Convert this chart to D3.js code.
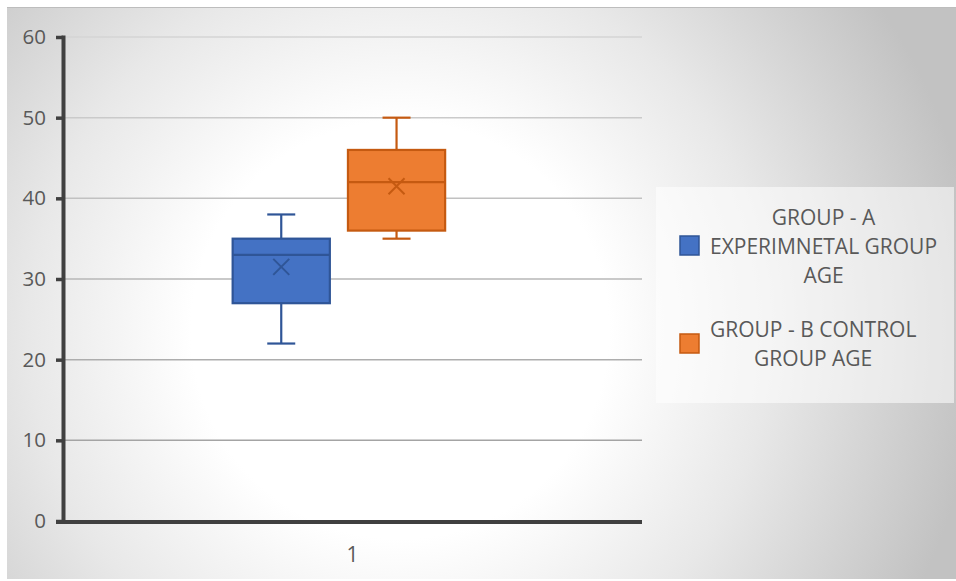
<!DOCTYPE html>
<html><head><meta charset="utf-8">
<script src="https://cdn.jsdelivr.net/npm/d3@7"></script>
<style>body{margin:0;background:#fff}svg{display:block}</style>
</head><body>
<script>
// ---- data ----
const categories = ["1"];
const seriesNames = ["GROUP - A EXPERIMNETAL GROUP AGE", "GROUP - B CONTROL GROUP AGE"];
const legendLines = [["GROUP - A", "EXPERIMNETAL GROUP", "AGE"], ["GROUP - B CONTROL", "GROUP AGE"]];
const whiskerMin = [22, 35];
const q1 = [27, 36];
const median = [33, 42];
const q3 = [35, 46];
const whiskerMax = [38, 50];
const means = [31.5, 41.5];
const yTicks = [0, 10, 20, 30, 40, 50, 60];
const fills = ["#4472C4", "#ED7D31"];
const strokes = ["#2F5597", "#C55A11"];

const W = 956, H = 581;
const svg = d3.select("body").append("svg").attr("width", W).attr("height", H);
const defs = svg.append("defs");
const grad = defs.append("radialGradient").attr("id", "bg")
  .attr("gradientUnits", "userSpaceOnUse").attr("cx", 400).attr("cy", 330).attr("r", 580);
grad.append("stop").attr("offset", 0).attr("stop-color", "#ffffff");
grad.append("stop").attr("offset", 0.36).attr("stop-color", "#ffffff");
grad.append("stop").attr("offset", 0.64).attr("stop-color", "#e8e8e8");
grad.append("stop").attr("offset", 1).attr("stop-color", "#c2c2c2");

svg.append("rect").attr("x", 7).attr("y", 7).attr("width", W - 7).attr("height", 572)
  .attr("fill", "url(#bg)");
svg.append("line").attr("x1", 7).attr("x2", W).attr("y1", 7.5).attr("y2", 7.5).attr("stroke", "#bdbdbd").attr("stroke-width", 1);

const plotL = 63, plotR = 642, plotT = 37, plotB = 521;
const y = d3.scaleLinear().domain([0, 60]).range([plotB, plotT]);
const x0 = d3.scaleBand().domain(categories).range([plotL, plotR]).padding(0);
const x1 = d3.scaleBand().domain(seriesNames)
  .range([x0("1") + x0.bandwidth() * 0.293, x0("1") + x0.bandwidth() * 0.66])
  .paddingInner(0.157).paddingOuter(0);

const font = "'Open Sans', sans-serif";
// gridlines
svg.append("g").selectAll("line").data(yTicks.filter(d => d > 0)).join("line")
  .attr("x1", plotL).attr("x2", plotR).attr("y1", d => y(d)).attr("y2", d => y(d))
  .attr("stroke", d => d3.interpolateRgb("#9a9a9a", "#d4d4d4")(d / 60)).attr("stroke-width", 1.5);

// y axis
const yAxis = svg.append("g").attr("transform", `translate(${plotL},0)`)
  .call(d3.axisLeft(y).tickValues(yTicks).tickSize(7).tickPadding(10).tickFormat(d3.format("d")));
yAxis.select(".domain").attr("stroke", "#404040").attr("stroke-width", 4)
  .attr("d", `M0.5,${plotT - 1.5}V${plotB}`);
yAxis.selectAll(".tick line").attr("stroke", "#404040").attr("stroke-width", 3.5);
yAxis.selectAll(".tick text").attr("font-family", font).attr("font-size", 20.5).attr("fill", "#595959");

// x axis
const xAxis = svg.append("g").attr("transform", `translate(0,${plotB})`)
  .call(d3.axisBottom(x0).tickSize(0).tickPadding(26));
xAxis.select(".domain").attr("stroke", "#404040").attr("stroke-width", 4)
  .attr("d", `M${plotL - 7},1H${plotR}`);
xAxis.selectAll(".tick text").attr("font-family", font).attr("font-size", 21).attr("fill", "#595959");

// boxes
const idx = d3.range(seriesNames.length);
const g = svg.append("g");
idx.forEach(i => {
  const s = seriesNames[i];
  const xl = x1(s), bw = x1.bandwidth(), cx = xl + bw / 2;
  const cap = 14;
  const gg = g.append("g").attr("stroke", strokes[i]).attr("stroke-width", 2.2);
  gg.append("line").attr("x1", cx).attr("x2", cx).attr("y1", y(whiskerMax[i])).attr("y2", y(q3[i]));
  gg.append("line").attr("x1", cx).attr("x2", cx).attr("y1", y(q1[i])).attr("y2", y(whiskerMin[i]));
  gg.append("line").attr("x1", cx - cap).attr("x2", cx + cap).attr("y1", y(whiskerMax[i])).attr("y2", y(whiskerMax[i]));
  gg.append("line").attr("x1", cx - cap).attr("x2", cx + cap).attr("y1", y(whiskerMin[i])).attr("y2", y(whiskerMin[i]));
  gg.append("rect").attr("x", xl).attr("width", bw).attr("y", y(q3[i])).attr("height", y(q1[i]) - y(q3[i]))
    .attr("fill", fills[i]);
  gg.append("line").attr("x1", xl).attr("x2", xl + bw).attr("y1", y(median[i])).attr("y2", y(median[i]));
  const m = 8, my = y(means[i]);
  gg.append("path").attr("d", `M${cx - m},${my - m}L${cx + m},${my + m}M${cx - m},${my + m}L${cx + m},${my - m}`)
    .attr("stroke-width", 2);
});

// legend
const lg = svg.append("g");
lg.append("rect").attr("x", 656).attr("y", 187).attr("width", 298).attr("height", 216)
  .attr("fill", "#ffffff").attr("fill-opacity", 0.55);
const legendY = [[225, 254, 283], [337, 366]];
const swatchY = [236, 334];
idx.forEach(i => {
  lg.append("rect").attr("x", 680).attr("y", swatchY[i]).attr("width", 19).attr("height", 19)
    .attr("fill", fills[i]).attr("stroke", strokes[i]).attr("stroke-width", 1.5);
  const t = lg.append("g");
  const texts = legendLines[i].map((ln, k) => t.append("text").attr("y", legendY[i][k])
    .attr("font-family", font).attr("font-size", 21).attr("fill", "#595959").text(ln));
  const maxW = d3.max(texts, tt => tt.node().getComputedTextLength());
  texts.forEach(tt => tt.attr("x", 710 + maxW / 2).attr("text-anchor", "middle"));
});
</script>
</body></html>
